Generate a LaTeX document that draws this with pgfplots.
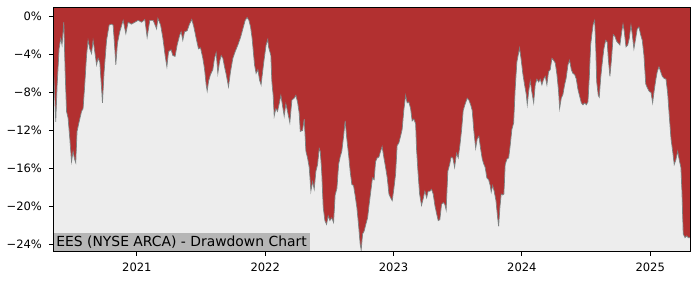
\documentclass[border=0pt]{standalone}
\usepackage{pgfplots}
\usepackage{pgfplotstable}
\pgfplotsset{compat=1.18}
\usepackage{fontspec}
\setmainfont{DejaVu Sans}
\definecolor{ddred}{RGB}{178,48,48}
\definecolor{ddbg}{RGB}{237,237,237}
\definecolor{ddline}{RGB}{125,128,128}
\definecolor{boxgray}{RGB}{182,182,182}
\pgfplotstableread{
x y
2020.347 -6.0
2020.353 -6.2
2020.368 -11.1
2020.379 -7.2
2020.394 -3.4
2020.407 -2.3
2020.417 -3.0
2020.431 -0.6
2020.441 -5.8
2020.452 -10.0
2020.464 -10.7
2020.477 -12.8
2020.491 -15.3
2020.503 -14.2
2020.514 -15.0
2020.524 -15.4
2020.534 -12.1
2020.550 -11.1
2020.569 -10.0
2020.581 -9.7
2020.594 -7.2
2020.608 -4.1
2020.620 -2.5
2020.633 -3.4
2020.647 -3.9
2020.659 -2.5
2020.672 -3.7
2020.686 -5.1
2020.698 -4.4
2020.711 -4.8
2020.725 -7.6
2020.732 -9.1
2020.745 -5.8
2020.764 -2.5
2020.784 -0.9
2020.802 -0.8
2020.815 -0.9
2020.828 -3.4
2020.836 -5.1
2020.849 -2.8
2020.867 -1.6
2020.893 -0.4
2020.914 -1.8
2020.932 -0.6
2020.958 -0.8
2020.984 -0.6
2021.010 -0.4
2021.037 -0.6
2021.062 -0.3
2021.080 -2.2
2021.101 -0.4
2021.127 -0.4
2021.154 -1.3
2021.164 -0.2
2021.185 -0.9
2021.203 -2.3
2021.220 -4.1
2021.234 -5.3
2021.247 -3.7
2021.267 -3.5
2021.280 -4.1
2021.298 -4.2
2021.314 -3.0
2021.333 -2.0
2021.345 -1.6
2021.358 -2.5
2021.372 -1.6
2021.392 -1.5
2021.410 -0.8
2021.428 -0.3
2021.444 -1.1
2021.462 -2.3
2021.480 -3.4
2021.496 -3.3
2021.514 -4.4
2021.527 -5.5
2021.540 -7.2
2021.548 -7.85
2021.559 -6.8
2021.574 -6.1
2021.592 -5.6
2021.605 -4.4
2021.618 -3.8
2021.631 -6.0
2021.644 -4.8
2021.657 -4.1
2021.670 -4.4
2021.683 -5.3
2021.696 -6.1
2021.714 -7.4
2021.730 -5.8
2021.748 -4.4
2021.766 -3.7
2021.787 -3.0
2021.808 -2.2
2021.826 -1.3
2021.844 -0.4
2021.859 -0.1
2021.873 -0.4
2021.886 -1.1
2021.898 -2.3
2021.917 -5.1
2021.929 -6.0
2021.943 -5.6
2021.956 -6.7
2021.968 -7.2
2021.989 -4.8
2022.007 -3.0
2022.020 -2.4
2022.026 -3.2
2022.044 -4.1
2022.052 -6.9
2022.062 -8.3
2022.070 -10.5
2022.083 -9.7
2022.096 -10.0
2022.109 -9.2
2022.122 -8.3
2022.135 -9.4
2022.148 -10.5
2022.161 -9.2
2022.174 -10.0
2022.192 -11.2
2022.208 -8.8
2022.226 -8.6
2022.239 -8.3
2022.252 -9.0
2022.265 -10.2
2022.273 -12.1
2022.291 -12.0
2022.304 -10.8
2022.317 -14.2
2022.330 -14.9
2022.343 -15.9
2022.356 -18.4
2022.369 -17.4
2022.382 -18.2
2022.395 -16.3
2022.408 -15.6
2022.421 -13.9
2022.429 -14.2
2022.440 -16.3
2022.452 -20.1
2022.465 -21.5
2022.478 -21.9
2022.491 -21.0
2022.504 -21.5
2022.518 -21.2
2022.533 -21.7
2022.545 -18.8
2022.559 -18.1
2022.572 -15.6
2022.584 -14.8
2022.597 -14.2
2022.611 -12.6
2022.623 -11.0
2022.636 -12.9
2022.650 -14.6
2022.662 -16.3
2022.675 -17.7
2022.688 -17.8
2022.700 -18.8
2022.714 -20.1
2022.727 -21.9
2022.740 -24.0
2022.748 -24.6
2022.759 -22.9
2022.771 -22.6
2022.784 -21.9
2022.798 -21.2
2022.810 -19.8
2022.823 -18.4
2022.836 -17.0
2022.849 -17.2
2022.860 -15.3
2022.872 -14.9
2022.886 -14.8
2022.899 -14.2
2022.911 -13.7
2022.925 -14.9
2022.938 -15.9
2022.951 -17.0
2022.964 -18.7
2022.977 -19.1
2022.990 -19.4
2023.003 -18.1
2023.016 -16.6
2023.028 -13.6
2023.042 -13.3
2023.055 -12.6
2023.067 -11.9
2023.080 -9.9
2023.094 -8.3
2023.106 -9.1
2023.119 -9.0
2023.133 -9.7
2023.145 -11.0
2023.158 -10.8
2023.172 -11.3
2023.179 -13.9
2023.190 -16.3
2023.203 -18.7
2023.218 -19.9
2023.231 -19.2
2023.244 -18.4
2023.258 -19.1
2023.270 -18.4
2023.283 -18.4
2023.296 -18.2
2023.309 -18.7
2023.322 -19.9
2023.336 -20.8
2023.348 -21.5
2023.361 -21.4
2023.374 -19.8
2023.387 -19.6
2023.400 -19.8
2023.410 -20.4
2023.423 -16.3
2023.437 -15.6
2023.449 -14.8
2023.462 -14.9
2023.476 -15.9
2023.491 -14.4
2023.504 -14.9
2023.517 -13.6
2023.530 -12.0
2023.543 -9.9
2023.556 -9.3
2023.574 -8.6
2023.587 -8.8
2023.601 -9.3
2023.613 -9.9
2023.626 -12.1
2023.640 -13.9
2023.652 -12.9
2023.665 -12.6
2023.678 -13.9
2023.691 -15.0
2023.702 -15.5
2023.714 -15.9
2023.727 -17.0
2023.741 -17.2
2023.753 -17.8
2023.761 -18.5
2023.772 -17.8
2023.784 -18.4
2023.798 -19.4
2023.811 -21.2
2023.819 -22.1
2023.829 -20.1
2023.839 -18.7
2023.850 -18.8
2023.860 -18.7
2023.870 -15.6
2023.884 -15.0
2023.897 -14.9
2023.909 -13.6
2023.922 -11.9
2023.936 -11.2
2023.948 -7.6
2023.961 -4.8
2023.975 -3.8
2023.982 -3.3
2023.995 -4.6
2024.008 -6.1
2024.021 -7.2
2024.034 -8.2
2024.042 -9.3
2024.053 -7.9
2024.065 -6.8
2024.078 -8.0
2024.092 -9.1
2024.104 -7.2
2024.117 -6.6
2024.131 -6.9
2024.143 -6.6
2024.156 -7.2
2024.169 -6.6
2024.182 -6.3
2024.195 -7.2
2024.208 -5.8
2024.221 -5.6
2024.234 -4.4
2024.247 -4.6
2024.260 -4.9
2024.273 -6.1
2024.286 -7.9
2024.294 -9.7
2024.307 -8.6
2024.320 -8.2
2024.333 -7.2
2024.345 -6.5
2024.359 -5.1
2024.372 -4.6
2024.385 -5.6
2024.398 -6.0
2024.411 -6.1
2024.424 -6.6
2024.437 -7.7
2024.450 -8.4
2024.463 -9.1
2024.476 -9.3
2024.489 -9.1
2024.502 -9.3
2024.515 -9.0
2024.525 -6.5
2024.536 -3.0
2024.546 -1.8
2024.556 -0.8
2024.567 -0.4
2024.575 -3.0
2024.583 -6.9
2024.595 -8.3
2024.603 -8.5
2024.614 -6.5
2024.626 -4.9
2024.639 -3.4
2024.653 -2.5
2024.665 -2.7
2024.673 -4.4
2024.686 -6.3
2024.699 -4.4
2024.712 -1.9
2024.725 -2.1
2024.738 -2.6
2024.751 -2.8
2024.764 -3.0
2024.778 -1.6
2024.788 -0.8
2024.798 -1.6
2024.811 -3.2
2024.825 -3.0
2024.837 -2.3
2024.850 -0.9
2024.860 -1.9
2024.873 -3.4
2024.887 -2.3
2024.899 -1.3
2024.912 -1.1
2024.925 -1.9
2024.938 -2.5
2024.951 -4.1
2024.965 -7.1
2024.977 -7.5
2024.993 -7.9
2025.006 -8.0
2025.019 -9.1
2025.029 -8.0
2025.043 -6.7
2025.055 -5.8
2025.068 -5.3
2025.081 -5.8
2025.094 -6.3
2025.107 -6.5
2025.123 -6.6
2025.136 -8.1
2025.148 -10.4
2025.162 -12.9
2025.175 -14.2
2025.187 -15.6
2025.200 -15.1
2025.214 -14.2
2025.226 -15.1
2025.239 -15.9
2025.247 -18.4
2025.257 -22.9
2025.271 -23.3
2025.284 -23.1
2025.296 -23.3
2025.310 -23.3
}\dd
\begin{document}
\begin{tikzpicture}
\begin{axis}[
  scale only axis,
  width=458.6pt, height=175.7pt,
  xmin=2020.347, xmax=2025.310,
  ymin=-24.77, ymax=0.94,
  axis background/.style={fill=ddred},
  axis on top,
  xtick={2021,2022,2023,2024,2025},
  xticklabels={2021,2022,2023,2024,2025},
  ytick={-24,-20,-16,-12,-8,-4,0},
  yticklabels={−24\%,−20\%,−16\%,−12\%,−8\%,−4\%,0\%},
  tick align=outside,
  xtick pos=bottom, ytick pos=left,
  major tick length=3pt,
  tick style={black, line width=0.6pt},
  axis line style={black, line width=0.7pt},
  ticklabel style={font=\fontsize{8.3}{10}\selectfont},
  xticklabel style={yshift=-1.5pt},
  yticklabel style={xshift=-1.5pt},
]
\addplot[fill=ddbg, draw=none] table {\dd} -- (axis cs:2025.310,-30) -- (axis cs:2020.347,-30) -- cycle;
\addplot[draw=ddline, line width=0.5pt] table {\dd};
\node[anchor=south west, fill=boxgray, inner xsep=2.2pt, inner ysep=0pt, minimum height=13.2pt, font=\fontsize{10}{12}\selectfont] at (rel axis cs:0,0) {EES (NYSE ARCA) - Drawdown Chart};
\end{axis}
\path ([xshift=-38.2pt,yshift=-20.4pt]current axis.south west) rectangle ([xshift=7.2pt,yshift=5.5pt]current axis.north east);
\end{tikzpicture}
\end{document}
